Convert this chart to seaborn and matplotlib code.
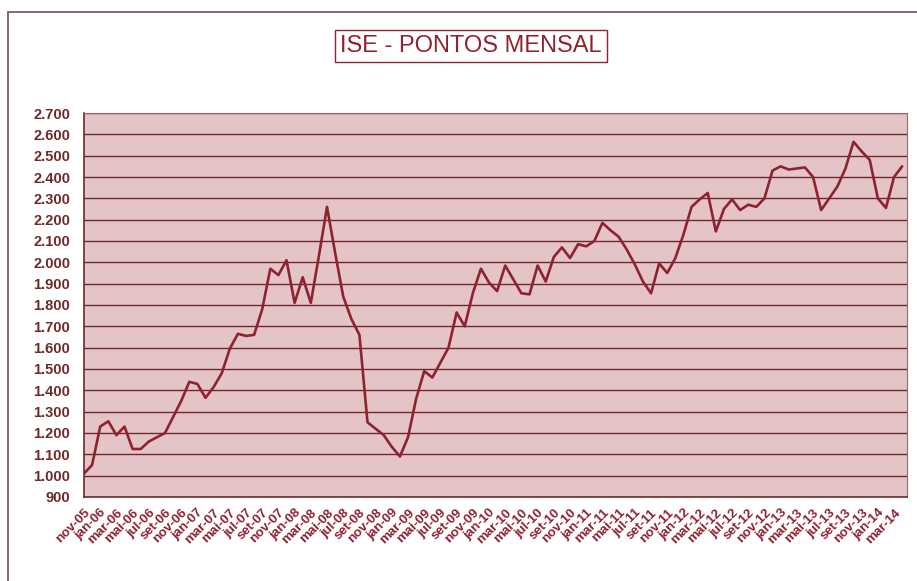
import seaborn as sns
import matplotlib.pyplot as plt
from matplotlib.patches import Rectangle

# ISE monthly points, nov-05 .. apr-14
meses_pt = ['jan', 'fev', 'mar', 'abr', 'mai', 'jun',
            'jul', 'ago', 'set', 'out', 'nov', 'dez']
inicio_ano, inicio_mes = 2005, 11
pontos = [1010, 1050, 1230, 1255, 1190, 1230, 1125, 1125, 1160, 1180,
          1200, 1275, 1350, 1440, 1430, 1365, 1415, 1480, 1595, 1665,
          1655, 1660, 1780, 1970, 1940, 2010, 1810, 1930, 1810, 2030,
          2260, 2045, 1840, 1735, 1660, 1250, 1220, 1190, 1135, 1090,
          1180, 1360, 1490, 1460, 1530, 1600, 1765, 1700, 1855, 1970,
          1905, 1865, 1985, 1920, 1855, 1850, 1985, 1910, 2025, 2070,
          2020, 2085, 2075, 2100, 2185, 2150, 2120, 2060, 1990, 1910,
          1855, 1995, 1950, 2020, 2130, 2260, 2295, 2325, 2145, 2250,
          2295, 2245, 2270, 2260, 2300, 2430, 2450, 2435, 2440, 2445,
          2400, 2245, 2300, 2355, 2440, 2565, 2520, 2480, 2300, 2255,
          2400, 2450]
y_ticks = list(range(900, 2701, 100))

rotulos = []
for i in range(len(pontos)):
    m = (inicio_mes - 1 + i) % 12
    a = inicio_ano + (inicio_mes - 1 + i) // 12
    rotulos.append(meses_pt[m] + '-' + str(a)[2:])
idx = list(range(len(pontos)))

escuro = '#6e2a2a'
vermelho = '#8e2230'

sns.set_style('white')
plt.rcParams['font.family'] = ['Liberation Sans', 'DejaVu Sans']

fig = plt.figure(figsize=(9.17, 5.81), dpi=100)
ax = fig.add_axes([0.0916, 0.1446, 0.8975, 0.6609])
ax.set_facecolor('#e5c4c7')

sns.lineplot(x=idx, y=pontos, ax=ax, color=vermelho, linewidth=1.9)

ax.set_xlim(0, len(pontos) - 0.4)
ax.set_ylim(900, 2700)
ax.set_yticks(y_ticks)
ax.set_yticklabels([f'{v:,}'.replace(',', '.') for v in y_ticks],
                   fontsize=10.5, fontweight='bold', color=escuro)
ax.yaxis.grid(True, color=escuro, linewidth=1)
ax.set_axisbelow(True)

ax.set_xticks(idx)
ax.set_xticklabels([r if i % 2 == 0 else '' for i, r in enumerate(rotulos)],
                   rotation=45, ha='right', va='top', rotation_mode='anchor',
                   fontsize=9.5, fontweight='bold', color=vermelho)
ax.tick_params(axis='x', direction='inout', length=8, width=1, color=escuro, pad=3)
ax.tick_params(axis='y', direction='out', length=6, width=1, color=escuro, pad=4)

for lado in ['left', 'bottom']:
    ax.spines[lado].set_color(escuro)
    ax.spines[lado].set_linewidth(1.2)
for lado in ['top', 'right']:
    ax.spines[lado].set_color('#9a6a6a')
    ax.spines[lado].set_linewidth(0.8)

ax.set_xlabel('')
ax.set_ylabel('')

fig.text(0.5136, 0.9208, 'ISE - PONTOS MENSAL', ha='center', va='center',
         fontsize=17, color=vermelho,
         bbox=dict(boxstyle='square,pad=0.22', fc='white', ec=vermelho, lw=1))

fig.patches.append(Rectangle((8 / 917, -0.05), 1.1, 0.979 + 0.05,
                             transform=fig.transFigure, fill=False,
                             ec='#7a6060', lw=1.3, clip_on=False))

fig.savefig('out.png', dpi=100)
